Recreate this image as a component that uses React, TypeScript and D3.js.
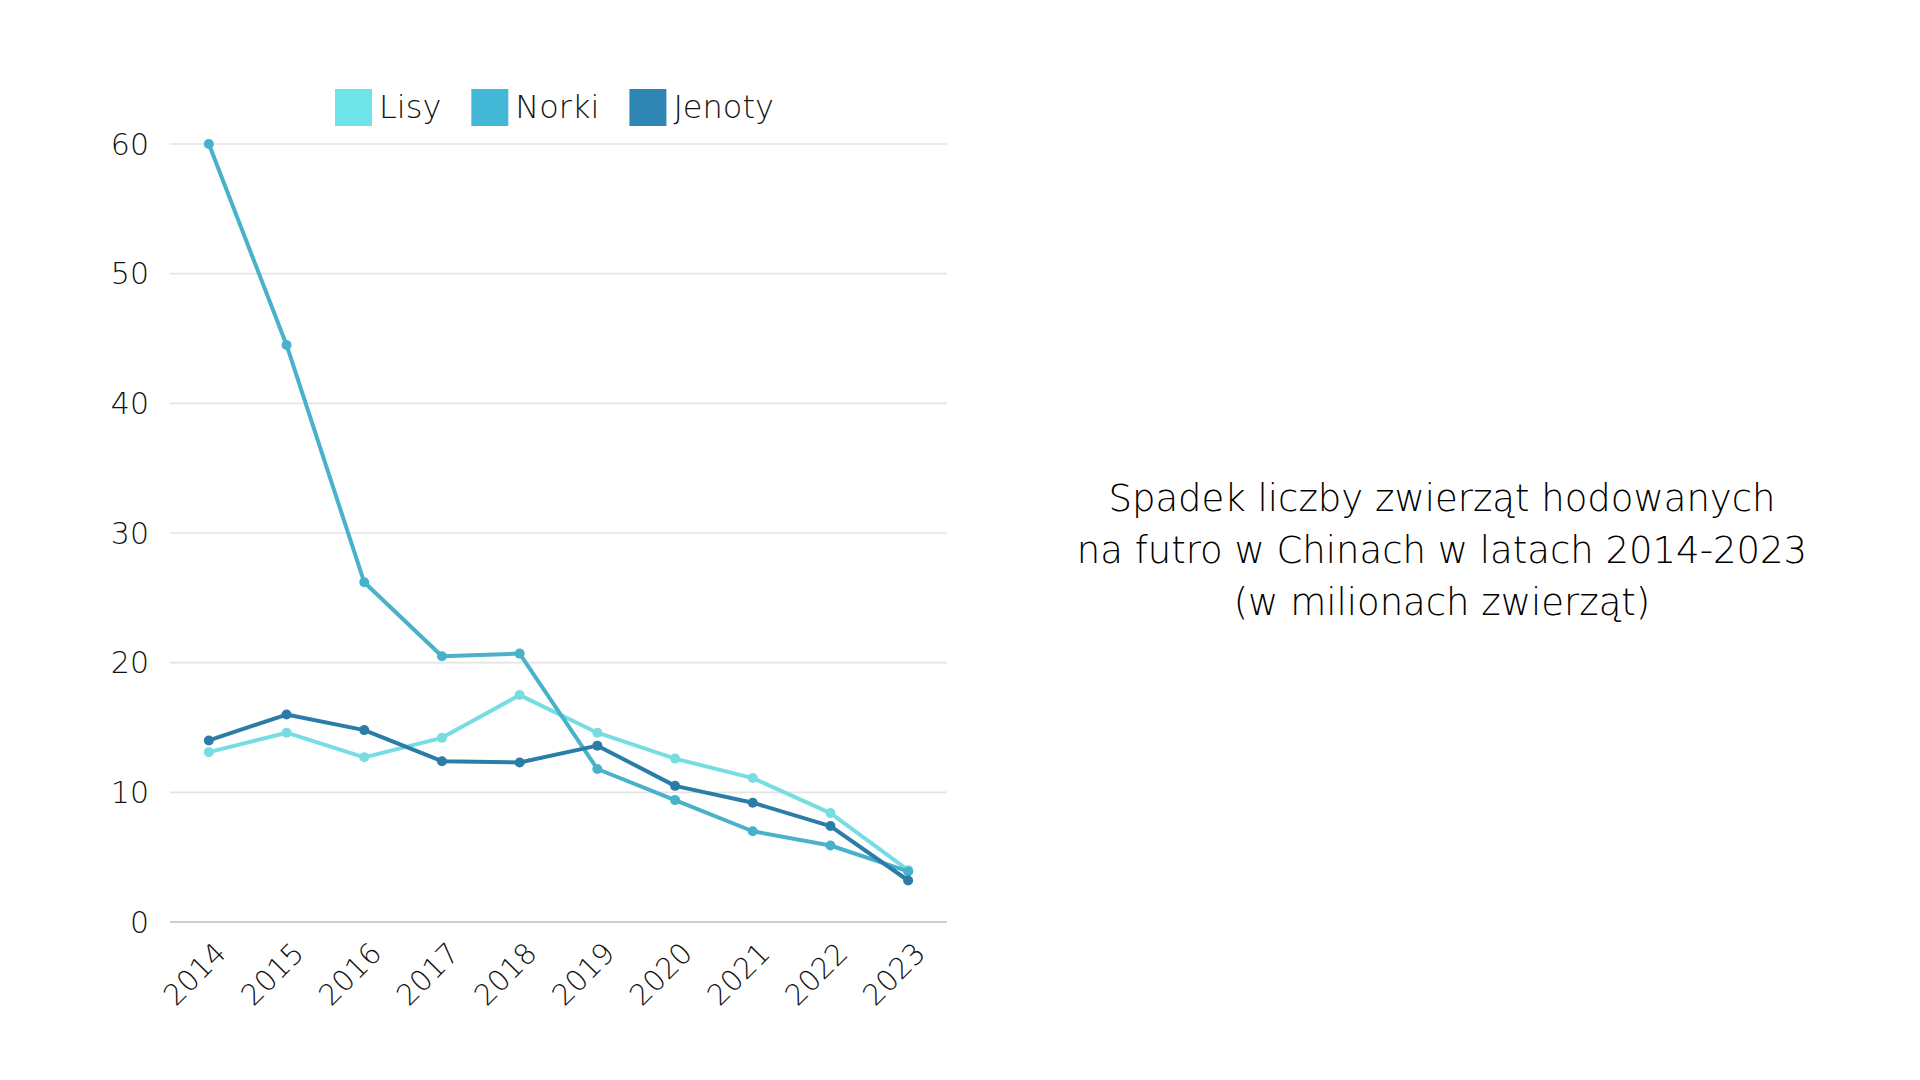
import { useEffect, useRef } from 'react';
import * as d3 from 'd3';

const YEARS = ['2014', '2015', '2016', '2017', '2018', '2019', '2020', '2021', '2022', '2023'];
const LISY = [13.1, 14.6, 12.7, 14.2, 17.5, 14.6, 12.6, 11.1, 8.4, 4.0];
const NORKI = [60, 44.5, 26.2, 20.5, 20.7, 11.8, 9.4, 7.0, 5.9, 3.9];
const JENOTY = [14.0, 16.0, 14.8, 12.4, 12.3, 13.6, 10.5, 9.2, 7.4, 3.2];
const Y_TICKS = [0, 10, 20, 30, 40, 50, 60];
const TITLE_LINES = [
  'Spadek liczby zwierząt hodowanych',
  'na futro w Chinach w latach 2014-2023',
  '(w milionach zwierząt)',
];

const SERIES = [
  { name: 'Lisy', values: LISY, line: '#78dde2', swatch: '#6ee3e8' },
  { name: 'Norki', values: NORKI, line: '#48b2cb', swatch: '#43b8d7' },
  { name: 'Jenoty', values: JENOTY, line: '#2b7da8', swatch: '#2d86b4' },
];

const FONT = "'DejaVu Sans', sans-serif";
const TEXT = '#111';

export default function App() {
  const svgRef = useRef<SVGSVGElement>(null);

  useEffect(() => {
    const svg = d3.select(svgRef.current);
    if (!svg.node()) return;
    svg.selectAll('*').remove();

    const width = 1920;
    const height = 1080;
    const plot = { left: 170, right: 947, top: 144, bottom: 922 };

    const x = d3.scalePoint<string>().domain(YEARS).range([plot.left, plot.right]).padding(0.5);
    const y = d3.scaleLinear().domain([0, 60]).range([plot.bottom, plot.top]);

    svg.append('rect').attr('width', width).attr('height', height).attr('fill', '#fff');

    const g = svg.append('g').attr('font-family', FONT);

    // gridlines
    g.append('g')
      .selectAll('line')
      .data(Y_TICKS)
      .join('line')
      .attr('x1', plot.left)
      .attr('x2', plot.right)
      .attr('y1', (d) => y(d))
      .attr('y2', (d) => y(d))
      .attr('stroke', (d) => (d === 0 ? '#cfcfcf' : '#e4e4e4'))
      .attr('stroke-width', (d) => (d === 0 ? 2.2 : 1.6));

    g.append('g')
      .selectAll('text')
      .data(Y_TICKS)
      .join('text')
      .attr('x', 149)
      .attr('y', (d) => y(d))
      .attr('dy', '0.36em')
      .attr('text-anchor', 'end')
      .attr('font-size', 30)
      .attr('font-weight', 300)
      .attr('fill', TEXT)
      .text((d) => d);

    g.append('g')
      .selectAll('text')
      .data(YEARS)
      .join('text')
      .attr('transform', (d) => `translate(${x(d)! + 19},${plot.bottom + 33}) rotate(-45)`)
      .attr('text-anchor', 'end')
      .attr('font-size', 29)
      .attr('font-weight', 300)
      .attr('fill', TEXT)
      .text((d) => d);

    const line = d3
      .line<number>()
      .x((_, i) => x(YEARS[i])!)
      .y((d) => y(d));

    SERIES.forEach((s) => {
      g.append('path')
        .datum(s.values)
        .attr('fill', 'none')
        .attr('stroke', s.line)
        .attr('stroke-width', 4)
        .attr('stroke-linejoin', 'round')
        .attr('d', line);
      g.append('g')
        .selectAll('circle')
        .data(s.values)
        .join('circle')
        .attr('cx', (_, i) => x(YEARS[i])!)
        .attr('cy', (d) => y(d))
        .attr('r', 5)
        .attr('fill', s.line);
    });

    // legend
    let lx = 335;
    SERIES.forEach((s) => {
      g.append('rect')
        .attr('x', lx)
        .attr('y', 89)
        .attr('width', 37)
        .attr('height', 37)
        .attr('fill', s.swatch);
      const t = g
        .append('text')
        .attr('x', lx + 44)
        .attr('y', 118)
        .attr('font-size', 32)
        .attr('font-weight', 300)
        .attr('fill', TEXT)
        .text(s.name);
      const w = (t.node() as SVGTextElement).getComputedTextLength();
      lx += 44 + w + 30;
    });

    // title
    g.append('g')
      .selectAll('text')
      .data(TITLE_LINES)
      .join('text')
      .attr('x', 1442)
      .attr('y', (_, i) => 511 + i * 52)
      .attr('text-anchor', 'middle')
      .attr('font-size', 37)
      .attr('font-weight', 300)
      .attr('fill', '#000')
      .text((d) => d);
  }, []);

  return (
    <svg
      ref={svgRef}
      width={1920}
      height={1080}
      viewBox="0 0 1920 1080"
      style={{ position: 'fixed', top: 0, left: 0 }}
    />
  );
}
